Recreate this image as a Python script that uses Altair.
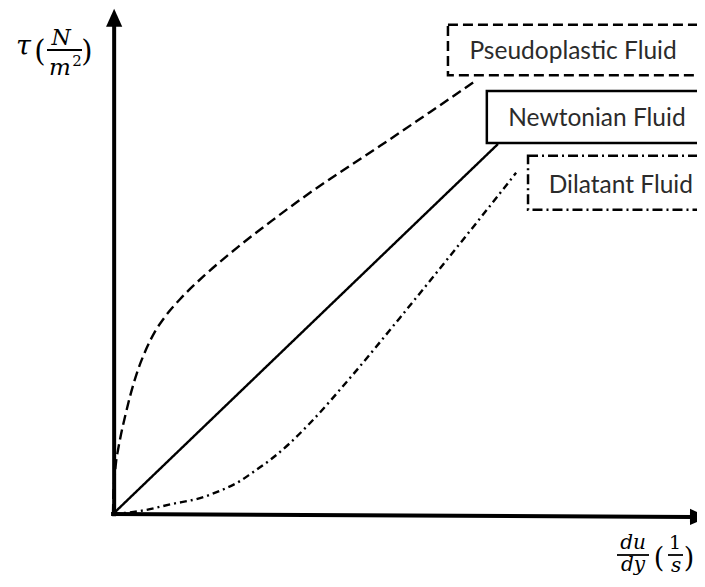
import altair as alt
import pandas as pd

# ---------------- data (schematic units: x = du/dy, y = tau) ----------------
curve_names = ["Newtonian Fluid", "Pseudoplastic Fluid", "Dilatant Fluid"]

newtonian_x = [0.0, 10.0]
newtonian_y = [0.0, 10.0]

pseudo_x = [0, 0.01, 0.04, 0.08, 0.13, 0.21, 0.31, 0.44, 0.65, 0.86, 1.09, 1.35, 1.79, 2.39, 3.25, 4.13, 4.99, 6.94, 8.23, 9.45]
pseudo_y = [0, 0.51, 0.97, 1.41, 1.73, 2.16, 2.62, 3.17, 3.90, 4.45, 4.93, 5.33, 5.86, 6.46, 7.22, 7.93, 8.59, 9.95, 10.86, 11.73]

dilatant_x = [0, 0.70, 1.53, 2.26, 2.83, 3.30, 3.61, 4.08, 4.60, 5.12, 6.16, 7.45, 8.75, 9.71, 10.47]
dilatant_y = [0, 0.08, 0.27, 0.43, 0.65, 0.89, 1.11, 1.46, 1.92, 2.46, 3.68, 5.30, 6.97, 8.22, 9.22]

box_names = ["Pseudoplastic Fluid", "Newtonian Fluid", "Dilatant Fluid"]
box_left = [8.70, 9.71, 10.78]
box_right = [16.5, 16.5, 16.5]
box_top = [13.22, 11.43, 9.68]
box_bottom = [11.86, 10.03, 8.22]
box_text_x = [11.95, 12.57, 13.19]
box_text_y = [12.30, 10.49, 8.68]
box_dash = [[10, 5], [1, 0], [10, 4, 2, 4]]

axis_x_end = 15.05
axis_y_end = 13.2

# ---------------- layout ----------------
W, H = 689, 568
OX, OY = 105, 506        # pixel position of the origin
PXX, PXY = 38.5, 37.0    # pixels per unit
x_dom = [-OX / PXX, (W - OX) / PXX]
y_dom = [-(H - OY) / PXY, OY / PXY]
xs = alt.Scale(domain=x_dom, nice=False, zero=False)
ys = alt.Scale(domain=y_dom, nice=False, zero=False)

# ---------------- tables ----------------
rows = []
for name, xv, yv in [(curve_names[0], newtonian_x, newtonian_y),
                     (curve_names[1], pseudo_x, pseudo_y),
                     (curve_names[2], dilatant_x, dilatant_y)]:
    for i, (a, b) in enumerate(zip(xv, yv)):
        rows.append({"fluid": name, "x": a, "y": b, "i": i})
curves_df = pd.DataFrame(rows)

boxes_df = pd.DataFrame({"name": box_names, "x": box_left, "x2": box_right,
                         "y": box_top, "y2": box_bottom,
                         "tx": box_text_x, "ty": box_text_y})

axes_df = pd.DataFrame({"x": [0.03, -0.05], "x2": [0.03, axis_x_end],
                        "y": [-0.06, 0.0], "y2": [axis_y_end, -0.08]})
arrows_df = pd.DataFrame({"x": [0.03, 15.22], "y": [13.41, -0.08], "dir": ["up", "right"]})

# ---------------- layers ----------------
axes = alt.Chart(axes_df).mark_rule(strokeWidth=4, color="black").encode(
    x=alt.X("x:Q", scale=xs, axis=None), x2="x2:Q",
    y=alt.Y("y:Q", scale=ys, axis=None), y2="y2:Q")

arrows = alt.Chart(arrows_df).mark_point(filled=True, color="black", opacity=1, size=324).encode(
    x=alt.X("x:Q", scale=xs, axis=None),
    y=alt.Y("y:Q", scale=ys, axis=None),
    shape=alt.Shape("dir:N", scale=alt.Scale(domain=["up", "right"],
                    range=["M0,-1L0.9,1L-0.9,1Z", "M1,0L-1,0.9L-1,-0.9Z"]), legend=None))

curves = alt.Chart(curves_df).mark_line(strokeWidth=2.4, color="black", interpolate="monotone",
                                        strokeCap="butt").encode(
    x=alt.X("x:Q", scale=xs, axis=None),
    y=alt.Y("y:Q", scale=ys, axis=None),
    order="i:Q",
    detail="fluid:N",
    strokeDash=alt.StrokeDash("fluid:N", scale=alt.Scale(domain=curve_names,
                              range=[[1, 0], [10, 5], [7, 4, 2, 4]]), legend=None))

box_layers = []
for k, nm in enumerate(box_names):
    box_layers.append(
        alt.Chart(boxes_df).transform_filter(alt.datum.name == nm).mark_rect(
            fill="white", stroke="black", strokeWidth=2.5, strokeDash=box_dash[k], clip=True
        ).encode(
            x=alt.X("x:Q", scale=xs, axis=None), x2="x2:Q",
            y=alt.Y("y:Q", scale=ys, axis=None), y2="y2:Q"))

box_text = alt.Chart(boxes_df).mark_text(font="Lato", fontSize=24.5, align="center",
                                         baseline="alphabetic", color="#2b2b2b").encode(
    x=alt.X("tx:Q", scale=xs, axis=None),
    y=alt.Y("ty:Q", scale=ys, axis=None),
    text="name:N")


def txt(s, x, y, size, italic=True, font="DejaVu Serif"):
    return alt.Chart(pd.DataFrame({"t": [s]})).mark_text(
        font=font, fontSize=size, fontStyle="italic" if italic else "normal",
        align="center", baseline="alphabetic", color="black").encode(
        x=alt.value(x), y=alt.value(y), text="t:N")


def frac_line(x1, x2, y):
    return alt.Chart(pd.DataFrame({"a": [0]})).mark_rule(strokeWidth=1.8, color="black").encode(
        x=alt.value(x1), x2=alt.value(x2), y=alt.value(y))


y_title = [
    txt("τ", 15.5, 47, 27),
    txt("(", 32, 53, 29, italic=False),
    txt("N", 53, 37, 22),
    frac_line(39, 74, 42),
    txt("m", 52, 67, 23),
    txt("2", 69, 58, 15, italic=False),
    txt(")", 79, 53, 29, italic=False),
]
x_title = [
    txt("du", 625, 541, 20),
    frac_line(609, 641, 547),
    txt("dy", 625, 563, 20),
    txt("(", 651, 559, 27, italic=False),
    txt("1", 667, 541, 19, italic=False),
    frac_line(660, 675, 547),
    txt("s", 668, 564, 20),
    txt(")", 681, 559, 27, italic=False),
]

chart = alt.layer(curves, *box_layers, box_text, axes, arrows, *y_title, *x_title).properties(
    width=W, height=H, padding=0, autosize=alt.AutoSizeParams(type="none"),
    background="white"
).configure_view(stroke=None)

chart.save("out.html", embed_options={"renderer": "svg", "actions": False})
